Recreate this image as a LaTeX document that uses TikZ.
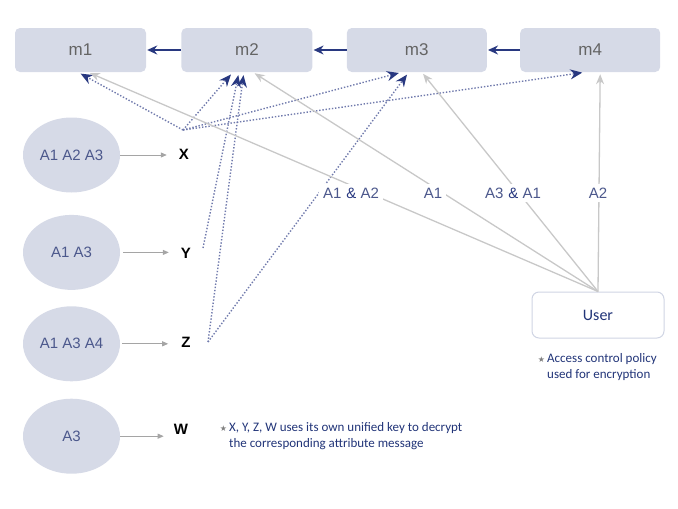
\documentclass[tikz,border=0pt]{standalone}
\usepackage{fontspec}
\setmainfont{Liberation Sans}
\newfontfamily\notefont{Carlito}
\newfontfamily\symfont{DejaVu Sans}
\usepackage{tikz}
\usetikzlibrary{positioning}
\usetikzlibrary{shapes,arrows,shapes.geometric,calc}
\usetikzlibrary{arrows.meta}
\usepackage{color}
\definecolor{boxfill}{RGB}{214,218,231}
\definecolor{navy}{RGB}{40,56,128}
\definecolor{slate}{RGB}{76,88,140}
\definecolor{dotc}{RGB}{112,122,172}
\definecolor{lgray}{RGB}{200,200,200}
\definecolor{mgray}{RGB}{165,165,165}
\definecolor{mtext}{RGB}{100,100,100}
\definecolor{notec}{RGB}{33,52,120}
\definecolor{usrline}{RGB}{208,213,228}

\begin{document}
\begin{tikzpicture}
    [x=1pt, y=-1pt,
     mbox/.style={rectangle, rounded corners=5pt, fill=boxfill, minimum height=44pt, minimum width=131pt, font=\fontsize{17}{19}\selectfont, text=mtext},
     attr/.style={ellipse, fill=boxfill, minimum width=97pt, minimum height=75pt, inner sep=0pt, font=\fontsize{15}{17}\selectfont, text=slate},
     keyn/.style={inner sep=1pt, font=\fontsize{15}{17}\selectfont\bfseries},
     lbl/.style={fill=white, inner sep=4pt, font=\fontsize{15}{17}\selectfont, text=slate},
     usr/.style={rectangle, rounded corners=7pt, draw=usrline, line width=1pt, fill=white, minimum height=46pt, minimum width=132pt, font=\notefont\fontsize{16}{18}\selectfont, text=notec},
     note/.style={inner sep=0pt, align=left, text=notec, font=\notefont\fontsize{13}{16}\selectfont},
     nxt/.style={-{Stealth[length=10pt, width=9pt]}, navy, line width=1.5pt, shorten >=1pt},
     pass/.style={-{Triangle[length=6pt, width=5pt]}, mgray, line width=0.9pt},
     give/.style={-{Stealth[length=10pt, width=8pt]}, lgray, line width=1.3pt, shorten >=2pt},
     dec/.style={-{Stealth[length=12pt, width=10pt, color=navy]}, dotc, line width=1.4pt, dash pattern=on 1.4pt off 1.8pt, shorten >=3pt}]

    \useasboundingbox (0,0) rectangle (678,509);

    % message chain
    \node [mbox] (m1) at (80.5,50) {m1};
    \node [mbox, right=35pt of m1] (m2) {m2};
    \node [mbox, minimum width=140pt, right=34pt of m2] (m3) {m3};
    \node [mbox, minimum width=140pt, right=33pt of m3] (m4) {m4};
    \path [nxt] (m2.west) edge (m1.east);
    \path [nxt] (m3.west) edge (m2.east);
    \path [nxt] (m4.west) edge (m3.east);

    % attribute sets and their keys
    \node [attr] (s1) at (71.5,155) {A1 A2 A3};
    \node [attr, below=22pt of s1] (s2) {A1 A3};
    \node [attr, below=16pt of s2] (s3) {A1 A3 A4};
    \node [attr, below=17pt of s3] (s4) {A3};
    \node [keyn] (kx) at (184,154) {X};
    \node [keyn] (ky) at (186,253) {Y};
    \node [keyn] (kz) at (186,342) {Z};
    \node [keyn] (kw) at (181,429) {W};
    \path [pass] (s1.east) edge ([xshift=-11pt] kx.west |- s1.east);
    \path [pass] ([xshift=3pt] s2.east) edge ([xshift=-11pt] ky.west |- s2.east);
    \path [pass] ([xshift=2pt] s3.east) edge ([xshift=-12pt] kz.west |- s3.east);
    \path [pass] (s4.east) edge ([xshift=-9pt] kw.west |- s4.east);

    % decryption paths
    \coordinate (xk) at (183,130);
    \coordinate (yk) at (203,248);
    \coordinate (zk) at (208,342);
    \path [dec] (xk) edge ([xshift=-2.5pt] m1.south);
    \path [dec] (xk) edge ([xshift=-14pt] m2.south);
    \path [dec] (yk) edge ([xshift=-8pt] m2.south);
    \path [dec] (zk) edge ([xshift=-3pt] m2.south);
    \path [dec] (xk) edge ([xshift=-15pt] m3.south);
    \path [dec] (zk) edge ([xshift=-8pt] m3.south);
    \path [dec] (xk) edge ([xshift=-5pt] m4.south);

    % encryption by the user
    \node [usr] (u) at (598,315) {User};
    \path [give] (u.north) edge ([xshift=7.5pt] m1.south);
    \path [give] (u.north) edge ([xshift=6pt] m2.south);
    \path [give] (u.north) edge ([xshift=5pt] m3.south);
    \path [give] (u.north) edge ([xshift=10pt] m4.south);
    \node [lbl] (p1) at (351,193) {A1\,\,{\color{navy}\&} A2};
    \node [lbl] (p2) at (433,193) {A1};
    \node [lbl] (p3) at (513,193) {A3\,\,{\color{navy}\&} A1};
    \node [lbl] (p4) at (598,193) {A2};

    \node [note, anchor=north west] (n1) at (547,353) {\llap{\textcolor{gray}{\symfont\fontsize{8}{10}\selectfont ★}\,}Access control policy\\used for encryption};
    \node [note, anchor=north west] (n2) at (229,422) {\llap{\textcolor{gray}{\symfont\fontsize{8}{10}\selectfont ★}\,}X, Y, Z, W uses its own unified key to decrypt\\the corresponding attribute message};
\end{tikzpicture}
\end{document}
